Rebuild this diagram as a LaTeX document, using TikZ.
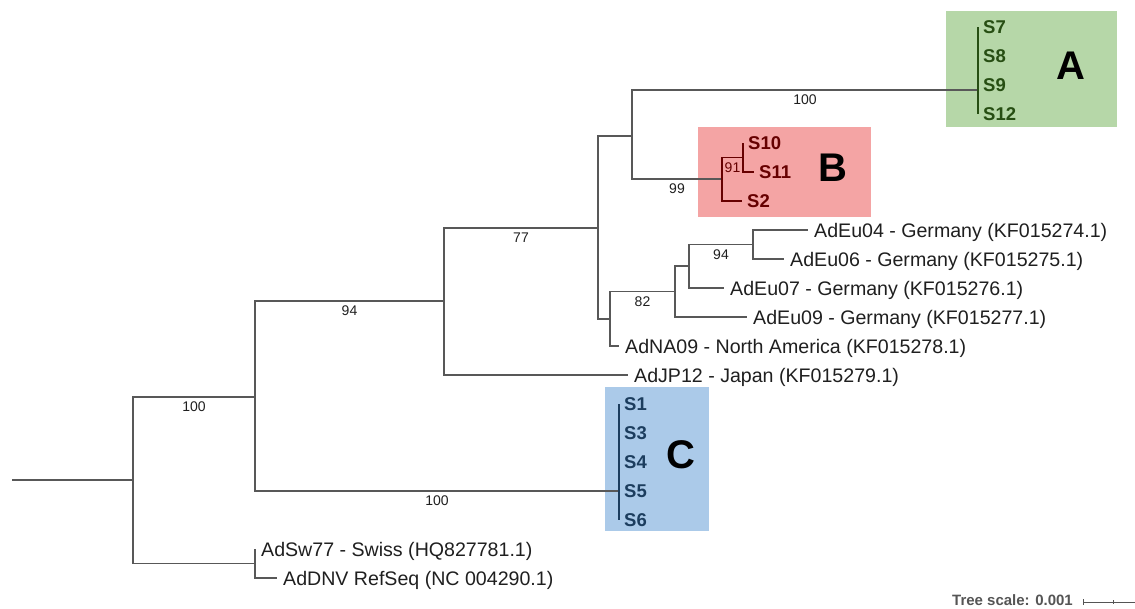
\documentclass[tikz,border=0pt]{standalone}
\usepackage{fontspec}
\setmainfont{Liberation Sans}
\definecolor{branchgray}{HTML}{585858}
\definecolor{fillA}{HTML}{B6D7A8}
\definecolor{textA}{HTML}{274E13}
\definecolor{fillB}{HTML}{F4A4A4}
\definecolor{textB}{HTML}{660000}
\definecolor{fillC}{HTML}{ABCAE9}
\definecolor{textC}{HTML}{1C3D5E}
\definecolor{labelgray}{HTML}{555555}
\begin{document}
\begin{tikzpicture}[x=1pt,y=-1pt,
  branch/.style={draw=branchgray,line width=1.1pt},
  leaf/.style={anchor=west,inner xsep=6pt,inner ysep=0pt,text=black!88,
    font=\fontsize{19.6}{22}\selectfont,text height=14pt,text depth=0pt},
  sample/.style={anchor=west,inner xsep=5pt,inner ysep=0pt,
    font=\bfseries\fontsize{18.5}{21}\selectfont,text height=13.3pt,text depth=0pt},
  boot/.style={pos=.75,below=2.5pt,inner sep=2pt,text=black!88,
    font=\fontsize{14}{16}\selectfont},
  cladename/.style={font=\bfseries\fontsize{40}{44}\selectfont,text=black,inner sep=0pt}
]
\useasboundingbox (0,0) rectangle (1135,608);

% clade highlight boxes
\fill[fillA] (946,11) rectangle (1117,127);
\fill[fillB] (698,127) rectangle (871,217);
\fill[fillC] (605,387) rectangle (709,531);

% internal nodes
\coordinate (root) at (12,480);
\coordinate (n1) at (133,480);
\coordinate (n2) at (255,397);
\coordinate (nsw) at (255,563.5);
\coordinate (n3) at (444,301);
\coordinate (nC) at (619,491);
\coordinate (n4) at (598,228);
\coordinate (nAB) at (632,136);
\coordinate (n5) at (610,319);
\coordinate (nA) at (978,90);
\coordinate (nB) at (722,179);
\coordinate (nB2) at (743,157.5);
\coordinate (n6) at (675,291.5);
\coordinate (n7) at (689,266);
\coordinate (n8) at (753,244.5);

% leaf tips
\coordinate (tS7) at (978,27);
\coordinate (tS8) at (978,56);
\coordinate (tS9) at (978,85);
\coordinate (tS12) at (978,114);
\coordinate (tS10) at (743,143);
\coordinate (tS11) at (754,172);
\coordinate (tS2) at (742,201);
\coordinate (tEu04) at (808,230);
\coordinate (tEu06) at (784,259);
\coordinate (tEu07) at (724,288);
\coordinate (tEu09) at (747,317);
\coordinate (tNA) at (619,346);
\coordinate (tJP) at (628,375);
\coordinate (tS1) at (619,404);
\coordinate (tS3) at (619,433);
\coordinate (tS4) at (619,462);
\coordinate (tS5) at (619,491);
\coordinate (tS6) at (619,520);
\coordinate (tSw) at (255,549);
\coordinate (tDNV) at (277,578);

% branches
\draw[branch] (root) -- (n1);
\draw[branch] (n1) |- (n2) node[boot]{100};
\draw[branch] (n1) |- (nsw);
\draw[branch] (nsw) |- (tSw);
\draw[branch] (nsw) |- (tDNV);
\draw[branch] (n2) |- (n3) node[boot]{94};
\draw[branch] (n2) |- (nC) node[boot]{100};
\draw[branch] (n3) |- (n4) node[boot]{77};
\draw[branch] (n3) |- (tJP);
\draw[branch] (n4) |- (nAB);
\draw[branch] (n4) |- (n5);
\draw[branch] (nAB) |- (nA) node[boot]{100};
\draw[branch] (nAB) |- (nB) node[boot]{99};
\draw[branch,draw=textB] (nB) |- (nB2) node[boot,text=textB]{91};
\draw[branch,draw=textB] (nB) |- (tS2);
\draw[branch,draw=textB] (nB2) |- (tS10);
\draw[branch,draw=textB] (nB2) |- (tS11);
\draw[branch] (n5) |- (n6) node[boot]{82};
\draw[branch] (n5) |- (tNA);
\draw[branch] (n6) |- (n7);
\draw[branch] (n6) |- (tEu09);
\draw[branch] (n7) |- (n8) node[boot]{94};
\draw[branch] (n7) |- (tEu07);
\draw[branch] (n8) |- (tEu04);
\draw[branch] (n8) |- (tEu06);
\draw[branch,draw=textA] (tS7) -- (tS12);
\draw[branch,draw=textC] (tS1) -- (tS6);

% leaf labels
\node[sample,text=textA] (lS7) at (tS7) {S7};
\node[sample,text=textA] (lS8) at (tS8) {S8};
\node[sample,text=textA] (lS9) at (tS9) {S9};
\node[sample,text=textA] (lS12) at (tS12) {S12};
\node[sample,text=textB] (lS10) at (tS10) {S10};
\node[sample,text=textB] (lS11) at (tS11) {S11};
\node[sample,text=textB] (lS2) at (tS2) {S2};
\node[leaf] (lEu04) at (tEu04) {AdEu04 - Germany (KF015274.1)};
\node[leaf] (lEu06) at (tEu06) {AdEu06 - Germany (KF015275.1)};
\node[leaf] (lEu07) at (tEu07) {AdEu07 - Germany (KF015276.1)};
\node[leaf] (lEu09) at (tEu09) {AdEu09 - Germany (KF015277.1)};
\node[leaf] (lNA) at (tNA) {AdNA09 - North America (KF015278.1)};
\node[leaf] (lJP) at (tJP) {AdJP12 - Japan (KF015279.1)};
\node[sample,text=textC] (lS1) at (tS1) {S1};
\node[sample,text=textC] (lS3) at (tS3) {S3};
\node[sample,text=textC] (lS4) at (tS4) {S4};
\node[sample,text=textC] (lS5) at (tS5) {S5};
\node[sample,text=textC] (lS6) at (tS6) {S6};
\node[leaf] (lSw) at (tSw) {AdSw77 - Swiss (HQ827781.1)};
\node[leaf] (lDNV) at (tDNV) {AdDNV RefSeq (NC 004290.1)};

% clade names
\node[cladename] (cA) at (1071,66) {A};
\node[cladename] (cB) at (833,168) {B};
\node[cladename] (cC) at (681,455) {C};

% tree scale
\node[anchor=east,inner sep=0pt,text=labelgray,font=\bfseries\fontsize{15}{17}\selectfont,
  text height=10.7pt,text depth=0pt] (scaletxt) at (1073,600.5) {Tree scale: 0.001};
\coordinate (sb0) at (1083,602);
\coordinate (sbm) at (1113,602);
\coordinate (sb1) at (1135,602);
\draw[draw=labelgray,line width=0.9pt] (sb0) -- (sb1);
\draw[draw=labelgray,line width=0.9pt] ([yshift=3pt]sb0) -- ([yshift=-3pt]sb0);
\draw[draw=labelgray,line width=0.9pt] ([yshift=2pt]sbm) -- ([yshift=-2pt]sbm);
\end{tikzpicture}
\end{document}
